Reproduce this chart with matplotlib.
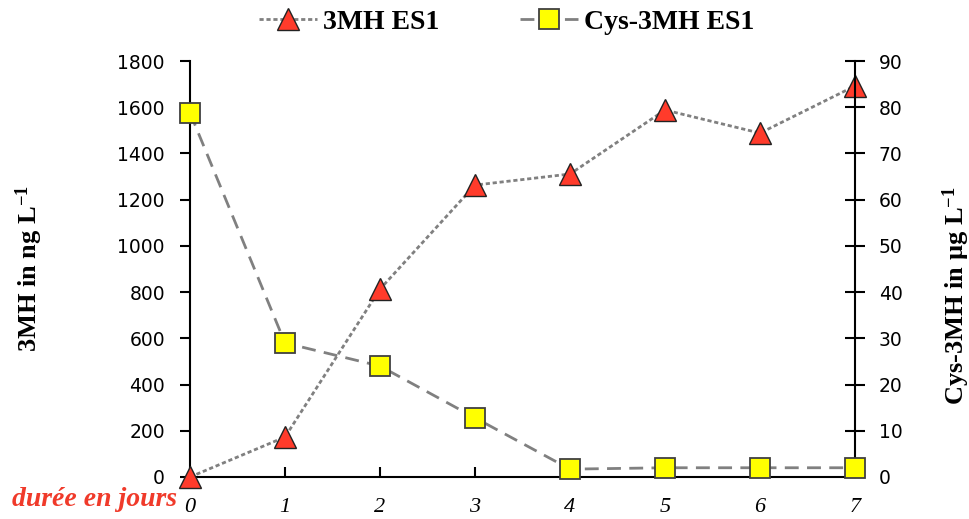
import matplotlib
matplotlib.use("Agg")
import matplotlib.pyplot as plt
from matplotlib.lines import Line2D

plt.rcParams["mathtext.fontset"] = "custom"
plt.rcParams["mathtext.rm"] = "Liberation Serif:bold"
plt.rcParams["mathtext.bf"] = "Liberation Serif:bold"
plt.rcParams["mathtext.it"] = "Liberation Serif:bold"

days = [0, 1, 2, 3, 4, 5, 6, 7]
mh3 = [0, 173, 813, 1263, 1311, 1588, 1488, 1692]
cys3mh = [78.8, 29.0, 24.0, 12.8, 1.7, 2.0, 2.0, 2.0]
x_ticklabels = ["0", "1", "2", "3", "4", "5", "6", "7"]
left_ticks = [0, 200, 400, 600, 800, 1000, 1200, 1400, 1600, 1800]
right_ticks = [0, 10, 20, 30, 40, 50, 60, 70, 80, 90]

fig = plt.figure(figsize=(9.7, 5.19), dpi=100)
ax = fig.add_axes([190/970, 1-477/519, (855-190)/970, (477-61)/519])
ax2 = ax.twinx()

gray = "#808080"
tri_kw = dict(marker="^", markersize=16, markerfacecolor="#FF3B2B",
              markeredgecolor="#222222", markeredgewidth=1.0)
sq_kw = dict(marker="s", markersize=14, markerfacecolor="#FFFF00",
             markeredgecolor="#404040", markeredgewidth=1.3)
l1, = ax.plot(days, mh3, color=gray, lw=2, dashes=(1.5, 1), clip_on=False, zorder=5, **tri_kw)
l2, = ax2.plot(days, cys3mh, color=gray, lw=2, dashes=(5, 3), clip_on=False, zorder=5, **sq_kw)

ax.set_xlim(0, 7)
ax.set_ylim(0, 1800)
ax2.set_ylim(0, 90)
ax.set_yticks(left_ticks)
ax2.set_yticks(right_ticks)
ax.set_xticks(days)
ax.set_xticklabels(x_ticklabels, family="Liberation Serif", style="italic", fontsize=16)

for a in (ax, ax2):
    a.spines["top"].set_visible(False)
    for s in a.spines.values():
        s.set_linewidth(1.5)
ax.spines["right"].set_visible(False)
ax2.spines["left"].set_visible(False)
ax2.spines["bottom"].set_visible(False)

ax.tick_params(axis="y", direction="out", length=7, width=1.5, labelsize=13.5, pad=11)
ax.tick_params(axis="x", direction="in", length=7, width=1.5, pad=15)
ax2.tick_params(axis="y", direction="inout", length=14, width=1.5, labelsize=13.5, pad=10)

ax.set_ylabel("3MH in ng L$^{-1}$", family="Liberation Serif", fontweight="bold", fontsize=19)
ax.yaxis.set_label_coords(-0.218, 0.5)
ax2.set_ylabel("Cys-3MH in µg L$^{-1}$", family="Liberation Serif", fontweight="bold",
               fontsize=19, rotation=90)
ax2.yaxis.set_label_coords(1.128, 0.435)

fig.text(12/970, 1-500/519, "durée en jours", color="#F03A2A", family="Liberation Serif",
         style="italic", fontweight="bold", fontsize=20, va="center", ha="left")

h1 = Line2D([], [], color=gray, lw=2, dashes=(1.5, 1), **tri_kw)
h2 = Line2D([], [], color=gray, lw=2, dashes=(5, 3), **sq_kw)
fig.legend([h1, h2], ["3MH ES1", "Cys-3MH ES1"], loc="center", bbox_to_anchor=(0.522, 1-22/519),
           ncol=2, frameon=False, handlelength=2.1, columnspacing=2.9, handletextpad=0.2,
           prop={"family": "Liberation Serif", "weight": "bold", "size": 20})

fig.savefig("out.png", dpi=100)
